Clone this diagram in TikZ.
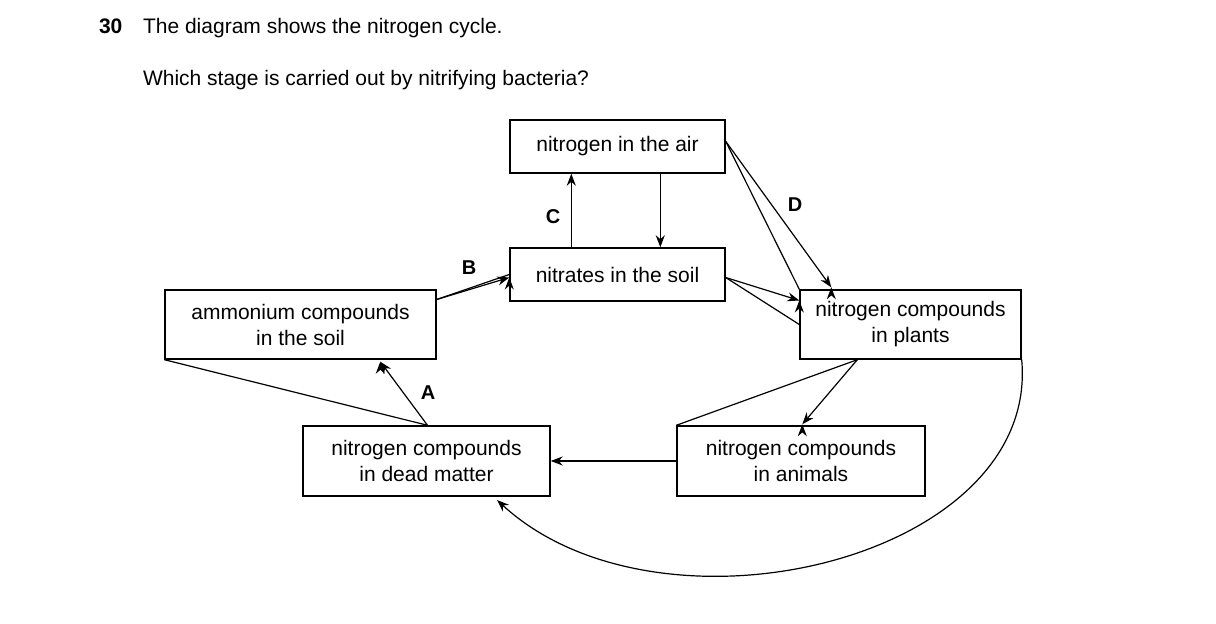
\documentclass[tikz,border=0pt]{standalone}
\usepackage{fontspec}
\setmainfont{Liberation Sans}
\usetikzlibrary{arrows.meta}
\begin{document}
\begin{tikzpicture}[x=0.5pt,y=-0.5pt,
  box/.style={draw,line width=0.7pt,inner sep=0pt,align=center,font=\fontsize{10.5}{13}\selectfont},
  arr/.style={line width=0.6pt,-{Stealth[length=6pt,width=4.5pt]}},
  lab/.style={font=\fontsize{10}{12}\selectfont\bfseries}]
\useasboundingbox (0,0) rectangle (1216,624);
\node[anchor=base west,font=\fontsize{10.5}{13}\selectfont\bfseries] (num) at (92,34) {30};
\node[anchor=base west,font=\fontsize{10.5}{13}\selectfont] (t1) at (136,34) {The diagram shows the nitrogen cycle.};
\node[anchor=base west,font=\fontsize{10.5}{13}\selectfont] (t2) at (136,86) {Which stage is carried out by nitrifying bacteria?};
\node[box,minimum width=107.5pt,minimum height=26.5pt] (air) at (617.5,146.5) {nitrogen in the air};
\node[box,minimum width=107.5pt,minimum height=26.5pt] (nit) at (617.5,274.5) {nitrates in the soil};
\node[box,minimum width=135.5pt,minimum height=34.5pt] (amm) at (300.5,324.5) {ammonium compounds\\in the soil};
\node[box,minimum width=110.5pt,minimum height=34.5pt] (pl) at (910.5,324.5) {nitrogen compounds\\in plants};
\node[box,minimum width=123.5pt,minimum height=35pt] (dead) at (426.5,461) {nitrogen compounds\\in dead matter};
\node[box,minimum width=124pt,minimum height=35pt] (an) at (801,461) {nitrogen compounds\\in animals};
\draw[arr] (nit.south west |- nit.north) ++(62,0) coordinate (c1) -- (c1 |- air.south);
\draw[arr] (air.south west) ++(151,0) coordinate (c2) -- (c2 |- nit.north);
\draw[arr] (air.north east) ++(0,22) coordinate (d1) -- (pl.north west) ++(32,-2) coordinate (d2);
\draw[arr] (d1) -- (d2);
\draw[arr] (amm.east) ++(0,-25) coordinate (b1) -- (nit.west) ++(0,3) coordinate (b2);
\draw[arr] (b1) -- (b2);
\draw[arr] (nit.east) ++(0,3) coordinate (e1) -- (pl.west) ++(0,-24) coordinate (e2);
\draw[arr] (e1) -- (e2);
\draw[arr] (pl.south west) ++(58,0) coordinate (f1) -- (an.north west) ++(126,-1) coordinate (f2);
\draw[arr] (f1) -- (f2);
\draw[arr] (an.west) -- (dead.east);
\draw[arr] (dead.north) ++(1,0) coordinate (a1) -- (amm.south west) ++(216,2) coordinate (a2);
\draw[arr] (a1) -- (a2);
\draw[arr] (pl.south east) .. controls (1040,560) and (660,650) .. (497,500);
\node[lab] (C) at (553,217) {C};
\node[lab] (D) at (795,205) {D};
\node[lab] (B) at (469,268) {B};
\node[lab] (A) at (428,393) {A};
\end{tikzpicture}
\end{document}
